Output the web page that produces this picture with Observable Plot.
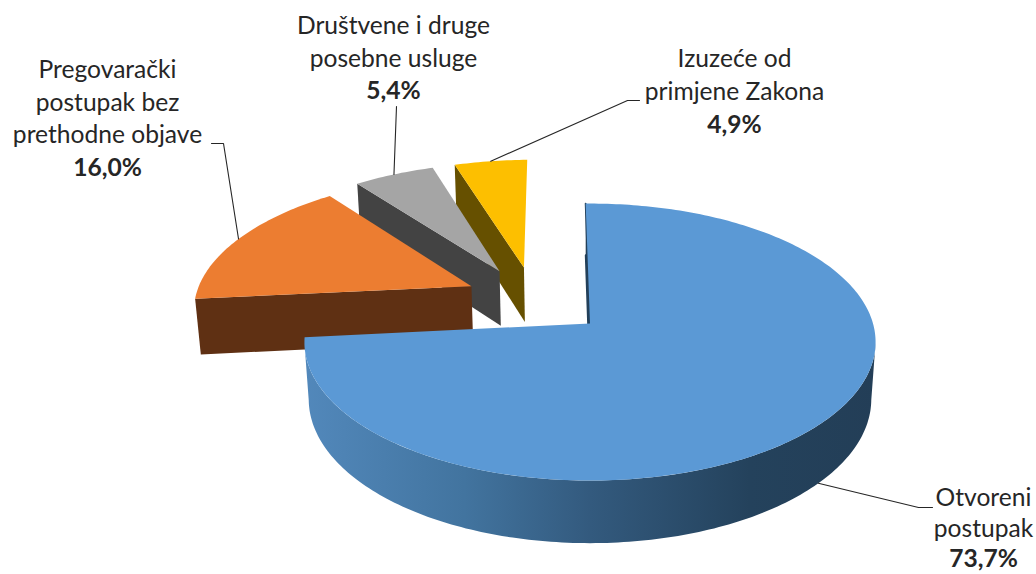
<!DOCTYPE html>
<html>
<head>
<meta charset="utf-8">
<style>html,body{margin:0;padding:0;background:#fff}svg{display:block}</style>
<script src="https://cdn.jsdelivr.net/npm/d3@7"></script>
<script src="https://cdn.jsdelivr.net/npm/@observablehq/plot@0.6"></script>
</head>
<body>
<div id="chart"></div>
<script>
// Data
const categories = ["Otvoreni postupak", "Pregovarački postupak bez prethodne objave", "Društvene i druge posebne usluge", "Izuzeće od primjene Zakona"];
const shares = [73.7, 16.0, 5.4, 4.9];
const percentLabels = ["73,7%", "16,0%", "5,4%", "4,9%"];
const labelLines = [["Otvoreni", "postupak"], ["Pregovarački", "postupak bez", "prethodne objave"], ["Društvene i druge", "posebne usluge"], ["Izuzeće od", "primjene Zakona"]];

// Style and layout
const topColors = ["#5b99d5", "#ec7d31", "#a5a5a5", "#fdbf00"];
const wallColors = ["#23405a", "#5f3013", "#434343", "#665000"];
const explodeX = [0, -0.435, -0.337, -0.247];
const explodeY = [0, -0.285, -0.405, -0.435];
const labelCenterX = [983, 107, 393, 734];
const labelFirstY = [498, 70, 26, 59];
const lineStep = [30.5, 32.5, 32.5, 33];
const elbowX = [[918, 932], [223, 211], [396, 396], [627, 639]];
const elbowY = [[507, 507], [143, 143], [106, 106], [100, 100]];
const fontFamily = "Lato, Carlito, sans-serif";
const fontSize = 24.6;
const apexX = 589.5, apexY = 323, scaleX = 283, scaleY = 136, persp = 0.134, depth = 57.5, depthShrink = 0.015, startAngle = -1;

// Projection of a point on the pie plane (u right, v toward viewer, z down) through the plot's x and y channels
function project(u, v, z) {
  const w = 1 - persp * v + depthShrink * z;
  return {x: apexX + scaleX * u / w, y: apexY + (scaleY * v + depth * z) / w};
}
const rim = (i, deg, z) => {
  const a = deg * Math.PI / 180;
  return project(explodeX[i] + Math.sin(a), explodeY[i] - Math.cos(a), z);
};
const centre = (i, z) => project(explodeX[i], explodeY[i], z);

const total = d3.sum(shares);
let acc = startAngle;
const slices = shares.map((s, i) => {
  const from = acc, to = acc + s / total * 360;
  acc = to;
  return {i, from, to, mid: (from + to) / 2};
});
const arc = (i, a, b, z) => {
  const n = Math.max(2, Math.ceil(Math.abs(b - a)));
  return d3.range(n + 1).map(k => rim(i, a + (b - a) * k / n, z));
};

const gradient = () => {
  const defs = d3.create("svg:defs");
  const g = defs.append("linearGradient").attr("id", "blueSide");
  [[0, "#5288bb"], [0.28, "#42749f"], [0.5, "#335a7e"], [0.78, "#24425c"], [1, "#233e57"]]
    .forEach(([o, c]) => g.append("stop").attr("offset", o).attr("stop-color", c));
  return defs.node();
};

const marks = [gradient];
const polygon = (points, fill, extra = {}) => Plot.line(points, {x: "x", y: "y", fill, stroke: "none", ...extra});

// painter's order: back slices first, front slice last
[3, 2, 1, 0].forEach(i => {
  const s = slices[i];
  const rimTop = rim(i, s.from, 0), rimBottom = rim(i, s.from, 1);
  const wall = [rimTop, centre(i, 0), centre(i, 1), rimBottom];
  marks.push(polygon(wall, wallColors[i], i === 0 ? {stroke: wallColors[i], strokeWidth: 1.8} : {}));
  if (i === 0) {
    const a = 98, b = 262;
    marks.push(polygon([...arc(i, a, b, 0), ...arc(i, b, a, 1)], "url(#blueSide)"));
  }
  marks.push(polygon([centre(i, 0), ...arc(i, s.from, s.to, 0)], topColors[i]));
});

// leader lines
slices.forEach(s => {
  const i = s.i;
  const start = i === 0 ? rim(i, s.mid, 1) : rim(i, s.mid, 0);
  const pts = [start, ...elbowX[i].map((x, k) => ({x, y: elbowY[i][k]}))];
  marks.push(Plot.line(pts, {x: "x", y: "y", stroke: "#262626", strokeWidth: 1.1}));
});

// labels
const textRows = [];
labelLines.forEach((lines, i) => {
  lines.forEach((t, k) => textRows.push({t, x: labelCenterX[i], y: labelFirstY[i] + k * lineStep[i], w: "normal"}));
  textRows.push({t: percentLabels[i], x: labelCenterX[i], y: labelFirstY[i] + lines.length * lineStep[i], w: "bold"});
});
["normal", "bold"].forEach(w => marks.push(Plot.text(textRows.filter(d => d.w === w), {
  x: "x", y: "y", text: "t", fill: "#262626", fontFamily, fontSize, fontWeight: w, textAnchor: "middle", lineAnchor: "middle"
})));

const chart = Plot.plot({
  width: 1036, height: 574,
  margin: 0,
  x: {domain: [0, 1036], range: [0, 1036], axis: null},
  y: {domain: [0, 574], range: [0, 574], axis: null},
  marks
});
document.getElementById("chart").append(chart);
</script>
</body>
</html>
